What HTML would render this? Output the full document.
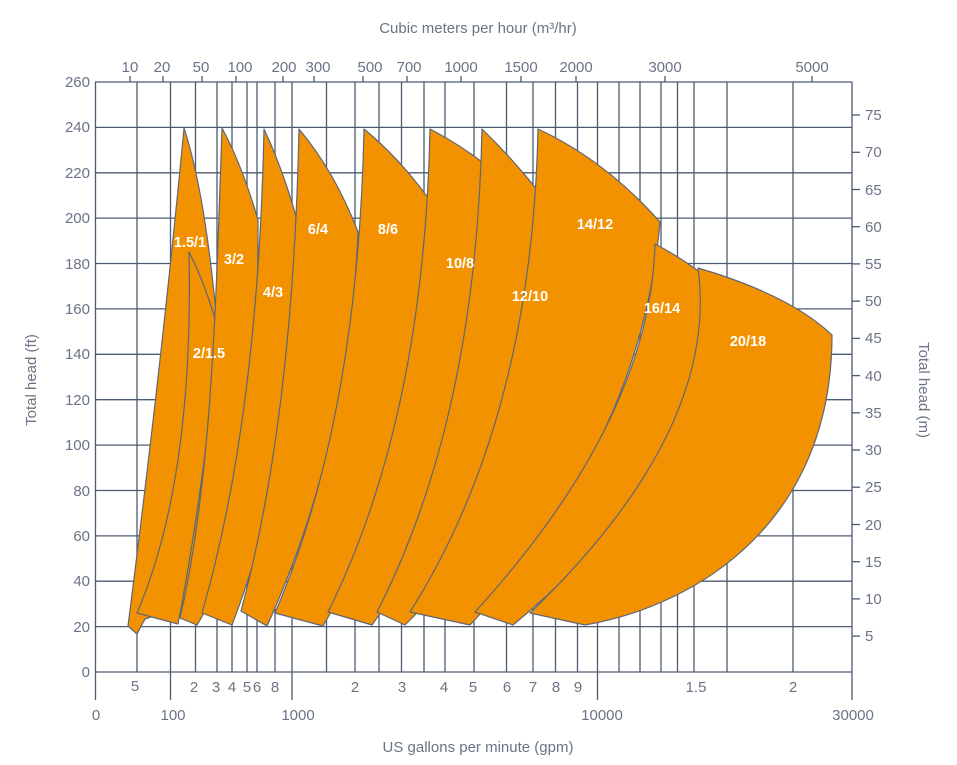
<!DOCTYPE html>
<html><head><meta charset="utf-8"><style>
html,body{margin:0;padding:0;background:#fff;}
svg{display:block;}
text{font-family:"Liberation Sans",Arial,sans-serif;}
</style></head><body>
<svg width="957" height="765" viewBox="0 0 957 765" xmlns="http://www.w3.org/2000/svg">
<g stroke="#4d5b72" stroke-width="1.3" fill="none">
<!-- horizontal grid -->
<line x1="95" y1="82" x2="852" y2="82"/>
<line x1="95" y1="127.4" x2="852" y2="127.4"/>
<line x1="95" y1="172.8" x2="852" y2="172.8"/>
<line x1="95" y1="218.1" x2="852" y2="218.1"/>
<line x1="95" y1="263.5" x2="852" y2="263.5"/>
<line x1="95" y1="308.9" x2="852" y2="308.9"/>
<line x1="95" y1="354.3" x2="852" y2="354.3"/>
<line x1="95" y1="399.7" x2="852" y2="399.7"/>
<line x1="95" y1="445.1" x2="852" y2="445.1"/>
<line x1="95" y1="490.5" x2="852" y2="490.5"/>
<line x1="95" y1="535.9" x2="852" y2="535.9"/>
<line x1="95" y1="581.2" x2="852" y2="581.2"/>
<line x1="95" y1="626.6" x2="852" y2="626.6"/>
<line x1="95" y1="672" x2="852" y2="672"/>
<!-- vertical grid -->
<line x1="95.5" y1="82" x2="95.5" y2="700"/>
<line x1="137" y1="82" x2="137" y2="672"/>
<line x1="170.5" y1="82" x2="170.5" y2="700"/>
<line x1="195.5" y1="82" x2="195.5" y2="672"/>
<line x1="217" y1="82" x2="217" y2="672"/>
<line x1="232" y1="82" x2="232" y2="672"/>
<line x1="247" y1="82" x2="247" y2="672"/>
<line x1="257" y1="82" x2="257" y2="672"/>
<line x1="275" y1="82" x2="275" y2="672"/>
<line x1="292" y1="82" x2="292" y2="700"/>
<line x1="326.5" y1="82" x2="326.5" y2="672"/>
<line x1="355" y1="82" x2="355" y2="672"/>
<line x1="379" y1="82" x2="379" y2="672"/>
<line x1="401.5" y1="82" x2="401.5" y2="672"/>
<line x1="424" y1="82" x2="424" y2="672"/>
<line x1="445" y1="82" x2="445" y2="672"/>
<line x1="474" y1="82" x2="474" y2="672"/>
<line x1="506.5" y1="82" x2="506.5" y2="672"/>
<line x1="533" y1="82" x2="533" y2="672"/>
<line x1="555.5" y1="82" x2="555.5" y2="672"/>
<line x1="577.5" y1="82" x2="577.5" y2="672"/>
<line x1="597.5" y1="82" x2="597.5" y2="700"/>
<line x1="619" y1="82" x2="619" y2="672"/>
<line x1="640" y1="82" x2="640" y2="672"/>
<line x1="661" y1="82" x2="661" y2="672"/>
<line x1="677.5" y1="82" x2="677.5" y2="672"/>
<line x1="694" y1="82" x2="694" y2="672"/>
<line x1="727" y1="82" x2="727" y2="672"/>
<line x1="793" y1="82" x2="793" y2="672"/>
<line x1="852" y1="82" x2="852" y2="700"/>
<!-- top ticks -->
<line x1="130" y1="76" x2="130" y2="82"/><line x1="163" y1="76" x2="163" y2="82"/>
<line x1="202" y1="76" x2="202" y2="82"/><line x1="236" y1="76" x2="236" y2="82"/>
<line x1="283" y1="76" x2="283" y2="82"/><line x1="314" y1="76" x2="314" y2="82"/>
<line x1="363" y1="76" x2="363" y2="82"/><line x1="407" y1="76" x2="407" y2="82"/>
<line x1="461" y1="76" x2="461" y2="82"/><line x1="521" y1="76" x2="521" y2="82"/>
<line x1="576" y1="76" x2="576" y2="82"/><line x1="665" y1="76" x2="665" y2="82"/>
<line x1="812" y1="76" x2="812" y2="82"/>
<!-- right ticks -->
<line x1="852" y1="115" x2="860" y2="115"/><line x1="852" y1="152.3" x2="860" y2="152.3"/>
<line x1="852" y1="189.5" x2="860" y2="189.5"/><line x1="852" y1="226.7" x2="860" y2="226.7"/>
<line x1="852" y1="263.9" x2="860" y2="263.9"/><line x1="852" y1="301.1" x2="860" y2="301.1"/>
<line x1="852" y1="338.4" x2="860" y2="338.4"/><line x1="852" y1="375.6" x2="860" y2="375.6"/>
<line x1="852" y1="412.8" x2="860" y2="412.8"/><line x1="852" y1="450" x2="860" y2="450"/>
<line x1="852" y1="487.2" x2="860" y2="487.2"/><line x1="852" y1="524.5" x2="860" y2="524.5"/>
<line x1="852" y1="561.7" x2="860" y2="561.7"/><line x1="852" y1="598.9" x2="860" y2="598.9"/>
<line x1="852" y1="636.1" x2="860" y2="636.1"/>
</g>

<g fill="#f39200" stroke="#5e6676" stroke-width="1.2" stroke-linejoin="round">
<path d="M128,626 L137,634 L145,619 L200,600 L218,335 Q206,195 184,128 Q162,360 128,626 Z"/>
<path d="M137,613 L178,624 Q202,500 219,333 Q206,285 189,252 Q194,480 137,613 Z"/>
<path d="M180,618 L197,625 C250,540 258,380 258,220 Q242,165 222,128 C216,300 212,480 180,618 Z"/>
<path d="M202,613 L232,625 Q297,455 304,247 Q288,180 264,129 Q258,419 202,613 Z"/>
<path d="M241,611 L267,626 Q349,446 358,232 Q335,172 299,129 Q293,418 241,611 Z"/>
<path d="M275,613 L323,626 Q431,443 443,220 Q408,165 364,129 Q358,419 275,613 Z"/>
<path d="M328,612 L372,625 Q507,432 522,197 Q480,155 430,129 Q424,419 328,612 Z"/>
<path d="M377,612 L405,625 Q570,462 588,262 Q540,185 482,129 Q476,419 377,612 Z"/>
<path d="M410,612 L470,625 Q641,443 660,222 Q605,160 538,129 Q532,419 410,612 Z"/>
<path d="M475,612 L513,625 Q698,473 719,288 Q690,262 655,244 Q650,420 475,612 Z"/>
<path d="M530,613 L585,625 C700,605 832,520 832,335 Q790,295 698,268 Q720,430 530,613 Z"/>
</g>

<g fill="#fff" font-size="14.5" font-weight="bold" text-anchor="middle">
<text x="190" y="247">1.5/1</text>
<text x="234" y="264">3/2</text>
<text x="273" y="297">4/3</text>
<text x="209" y="358">2/1.5</text>
<text x="318" y="234">6/4</text>
<text x="388" y="234">8/6</text>
<text x="460" y="268">10/8</text>
<text x="530" y="301">12/10</text>
<text x="595" y="229">14/12</text>
<text x="662" y="313">16/14</text>
<text x="748" y="346">20/18</text>
</g>

<g fill="#6b7484" font-size="15">
<text x="478" y="33" text-anchor="middle">Cubic meters per hour (m³/hr)</text>
<text x="478" y="752" text-anchor="middle">US gallons per minute (gpm)</text>
<text transform="translate(36,380) rotate(-90)" text-anchor="middle">Total head (ft)</text>
<text transform="translate(919,390) rotate(90)" text-anchor="middle">Total head (m)</text>
<g text-anchor="middle">
<text x="130" y="72">10</text><text x="162" y="72">20</text><text x="201" y="72">50</text>
<text x="240" y="72">100</text><text x="284" y="72">200</text><text x="318" y="72">300</text>
<text x="370" y="72">500</text><text x="409" y="72">700</text><text x="461" y="72">1000</text>
<text x="521" y="72">1500</text><text x="576" y="72">2000</text><text x="665" y="72">3000</text>
<text x="812" y="72">5000</text>
<text x="135" y="691">5</text><text x="194" y="692">2</text><text x="216" y="692">3</text>
<text x="232" y="692">4</text><text x="247" y="692">5</text><text x="257" y="692">6</text>
<text x="275" y="692">8</text><text x="355" y="692">2</text><text x="402" y="692">3</text>
<text x="444" y="692">4</text><text x="473" y="692">5</text><text x="507" y="692">6</text>
<text x="533" y="692">7</text><text x="556" y="692">8</text><text x="578" y="692">9</text>
<text x="696" y="692">1.5</text><text x="793" y="692">2</text>
<text x="96" y="720">0</text><text x="173" y="720">100</text><text x="298" y="720">1000</text>
<text x="602" y="720">10000</text><text x="853" y="720">30000</text>
</g>
<g text-anchor="end">
<text x="90" y="87">260</text><text x="90" y="132">240</text><text x="90" y="178">220</text>
<text x="90" y="223">200</text><text x="90" y="269">180</text><text x="90" y="314">160</text>
<text x="90" y="359">140</text><text x="90" y="405">120</text><text x="90" y="450">100</text>
<text x="90" y="496">80</text><text x="90" y="541">60</text><text x="90" y="586">40</text>
<text x="90" y="632">20</text><text x="90" y="677">0</text>
</g>
<g>
<text x="865" y="120">75</text><text x="865" y="157">70</text><text x="865" y="195">65</text>
<text x="865" y="232">60</text><text x="865" y="269">55</text><text x="865" y="306">50</text>
<text x="865" y="343">45</text><text x="865" y="381">40</text><text x="865" y="418">35</text>
<text x="865" y="455">30</text><text x="865" y="492">25</text><text x="865" y="530">20</text>
<text x="865" y="567">15</text><text x="865" y="604">10</text><text x="865" y="641">5</text>
</g>
</g>
</svg>
</body></html>
